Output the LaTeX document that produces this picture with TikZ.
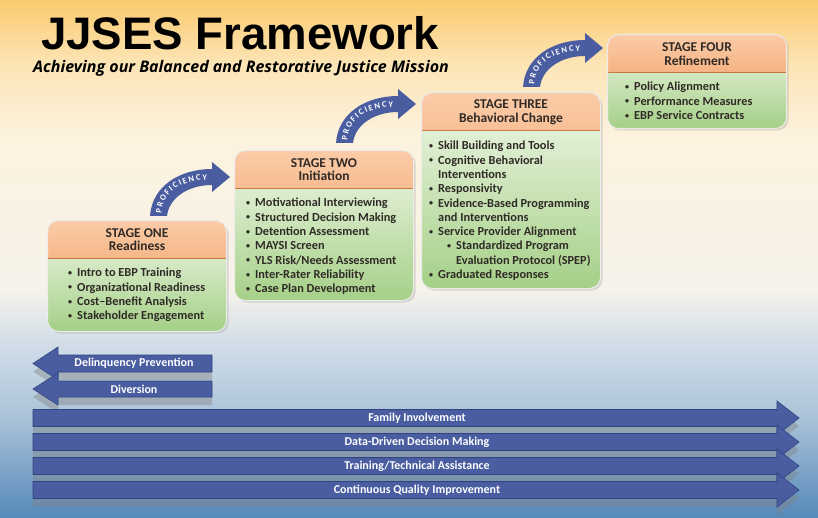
\documentclass[tikz,border=0pt]{standalone}
\usepackage{fontspec}
\setmainfont{Carlito}
\newfontfamily\titlefont{Liberation Sans}
\newfontfamily\mottofont{Open Sans}
\usetikzlibrary{shadows,decorations.text}

\definecolor{bgorange}{RGB}{250,202,110}
\definecolor{bgpeach}{RGB}{252,228,180}
\definecolor{bgcream}{RGB}{252,242,222}
\definecolor{bgpale}{RGB}{246,242,234}
\definecolor{bgmist}{RGB}{210,222,233}
\definecolor{bgsky}{RGB}{172,196,217}
\definecolor{bgsteel}{RGB}{86,137,185}
\definecolor{headlight}{RGB}{250,204,168}
\definecolor{headdeep}{RGB}{240,141,76}
\definecolor{bodylight}{RGB}{239,247,232}
\definecolor{bodydeep}{RGB}{165,208,135}
\definecolor{barblue}{RGB}{73,93,160}
\definecolor{barline}{RGB}{48,68,130}
\definecolor{ink}{RGB}{48,42,38}

\pgfdeclareverticalshading{backdrop}{100bp}{color(0bp)=(bgsteel); color(25bp)=(bgsteel); color(35bp)=(bgsky); color(42bp)=(bgmist); color(47bp)=(bgpale); color(62bp)=(bgcream); color(69bp)=(bgpeach); color(75bp)=(bgorange); color(100bp)=(bgorange)}

\tikzset{stagebox/.style={draw=white!85!gray, line width=1pt, rounded corners=11pt,
    top color=bodylight, bottom color=bodydeep, minimum width=179pt, inner sep=0pt,
    drop shadow={opacity=0.25, shadow xshift=2pt, shadow yshift=-2pt},
    path picture={\fill[sharp corners, top color=headlight, bottom color=headdeep]
        (path picture bounding box.north west) rectangle ([yshift=-38pt]path picture bounding box.north east);
      \draw[sharp corners, headdeep!85!black, line width=0.6pt]
        ([yshift=-38pt]path picture bounding box.north west) -- ([yshift=-38pt]path picture bounding box.north east);}}}
\tikzset{headtext/.style={align=center, text=ink, inner sep=0pt, font=\bfseries\fontsize{13.5}{13.5}\selectfont}}
\tikzset{listtext/.style={align=left, text=ink, inner sep=0pt, anchor=north west, font=\bfseries\fontsize{12.3}{14.3}\selectfont}}
\tikzset{bar/.style={fill=barblue, draw=barline, line width=0.6pt, drop shadow={opacity=0.4, shadow xshift=0pt, shadow yshift=-8pt}}}
\tikzset{bartext/.style={text=white, inner sep=0pt, font=\bfseries\fontsize{12}{12}\selectfont}}
\tikzset{proficiency/.pic={
    \fill[barblue] (0,0) .. controls (2,-30) and (30,-47) .. (62,-47) -- (62,-54) -- (80,-39)
      -- (62,-24) -- (62,-31) .. controls (38,-31) and (19,-18) .. (17,0) -- cycle;
    \path[decorate, decoration={text along path, text align={fit to path}, text color=white,
      raise=-3pt, text={|\bfseries\fontsize{8.5}{8.5}\selectfont|PROFICIENCY}}]
      (8.5,-3) .. controls (10,-28) and (33,-39) .. (57,-39);}}

\newcommand{\itm}{\makebox[9pt][l]{\raisebox{1.2pt}{\fontsize{8}{8}\selectfont\textbullet}}}
\newcommand{\gap}{\hspace*{9pt}}

\begin{document}
\begin{tikzpicture}[x=1pt, y=-1pt]
    \useasboundingbox (0,0) rectangle (818,518);
    \fill[shading=backdrop] (0,0) rectangle (818,518);

    \node[anchor=base west, inner sep=0pt, font=\titlefont\bfseries\fontsize{45.6}{46}\selectfont] (title) at (41,50) {JJSES Framework};
    \node[anchor=base west, inner sep=0pt, font=\mottofont\bfseries\itshape\fontsize{16}{16}\selectfont] (motto) at (33,73) {Achieving our Balanced and Restorative Justice Mission};

    % stages
    \node[stagebox, minimum height=111pt, anchor=north west] (stage1) at (47,220) {};
    \node[stagebox, minimum height=150pt, anchor=north west] (stage2) at (234,150) {};
    \node[stagebox, minimum height=196pt, anchor=north west] (stage3) at (421,92) {};
    \node[stagebox, minimum height=94pt, anchor=north west] (stage4) at (607,34) {};

    \node[headtext] (stage1title) at ([yshift=-19.5pt]stage1.north) {STAGE ONE\\Readiness};
    \node[headtext] (stage2title) at ([yshift=-19.5pt]stage2.north) {STAGE TWO\\Initiation};
    \node[headtext] (stage3title) at ([yshift=-20pt]stage3.north) {STAGE THREE\\Behavioral Change};
    \node[headtext] (stage4title) at ([yshift=-20pt]stage4.north) {STAGE FOUR\\Refinement};

    \node[listtext] (stage1list) at ([xshift=21pt, yshift=-48pt]stage1.north west)
        {\itm Intro to EBP Training\\ \itm Organizational Readiness\\ \itm Cost--Benefit Analysis\\ \itm Stakeholder Engagement};
    \node[listtext] (stage2list) at ([xshift=12pt, yshift=-48pt]stage2.north west)
        {\itm Motivational Interviewing\\ \itm Structured Decision Making\\ \itm Detention Assessment\\ \itm MAYSI Screen\\
         \itm YLS Risk/Needs Assessment\\ \itm Inter-Rater Reliability\\ \itm Case Plan Development};
    \node[listtext] (stage3list) at ([xshift=8pt, yshift=-49pt]stage3.north west)
        {\itm Skill Building and Tools\\ \itm Cognitive Behavioral\\ \gap Interventions\\ \itm Responsivity\\
         \itm Evidence-Based Programming\\ \gap and Interventions\\ \itm Service Provider Alignment\\
         \gap\gap\itm Standardized Program\\ \gap\gap\gap Evaluation Protocol (SPEP)\\ \itm Graduated Responses};
    \node[listtext] (stage4list) at ([xshift=18pt, yshift=-48pt]stage4.north west)
        {\itm Policy Alignment\\ \itm Performance Measures\\ \itm EBP Service Contracts};

    \pic at (150,216) {proficiency};
    \pic at (336,143) {proficiency};
    \pic at (523,87) {proficiency};

    % left arrows
    \filldraw[bar] (212,355) -- (58,355) -- (58,347) -- (33,363.5) -- (58,380) -- (58,372) -- (212,372) -- cycle;
    \node[bartext] (prevention) at (134,363.5) {Delinquency Prevention};
    \filldraw[bar] (212,381) -- (58,381) -- (58,373) -- (33,389) -- (58,405) -- (58,397) -- (212,397) -- cycle;
    \node[bartext] (diversion) at (134,389) {Diversion};

    % right arrows
    \filldraw[bar] (33,409.5) -- (777,409.5) -- (777,401) -- (799,418) -- (777,435) -- (777,426.5) -- (33,426.5) -- cycle;
    \node[bartext] (family) at (417,418) {Family Involvement};
    \filldraw[bar] (33,433.5) -- (777,433.5) -- (777,425) -- (799,442) -- (777,459) -- (777,450.5) -- (33,450.5) -- cycle;
    \node[bartext] (datadriven) at (417,442) {Data-Driven Decision Making};
    \filldraw[bar] (33,457.5) -- (777,457.5) -- (777,449) -- (799,466) -- (777,483) -- (777,474.5) -- (33,474.5) -- cycle;
    \node[bartext] (training) at (417,466) {Training/Technical Assistance};
    \filldraw[bar] (33,481.5) -- (777,481.5) -- (777,473) -- (799,490) -- (777,507) -- (777,498.5) -- (33,498.5) -- cycle;
    \node[bartext] (quality) at (417,490) {Continuous Quality Improvement};

\end{tikzpicture}
\end{document}
